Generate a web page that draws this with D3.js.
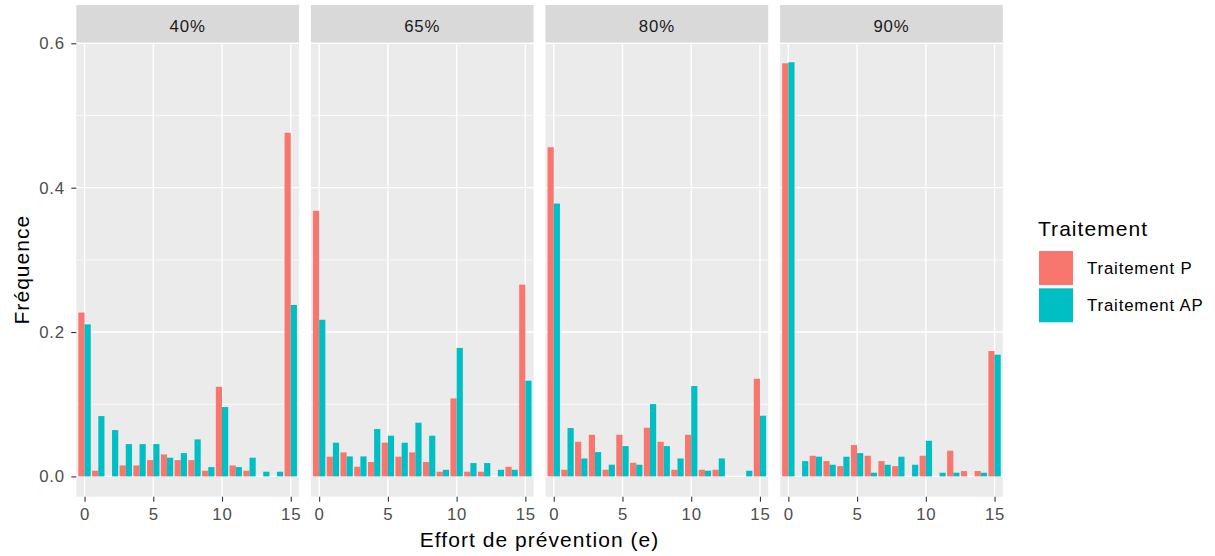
<!DOCTYPE html>
<html><head><meta charset="utf-8">
<script src="https://cdn.jsdelivr.net/npm/d3@7"></script>
<style>
body{margin:0;background:#fff}
text{font-family:"Liberation Sans",Arial,sans-serif;letter-spacing:0.05em}
</style>
</head><body>
<svg id="chart" width="1215" height="556"></svg>
<script>
// ---- data ----
const efforts = [0,1,2,3,4,5,6,7,8,9,10,11,12,13,14,15];
const panelLabels = ["40%","65%","80%","90%"];
const seriesNames = ["Traitement P","Traitement AP"];
const seriesColors = ["#F8766D","#00BFC4"];
const p40  = [0.227,0.0079,0,0.0152,0.0152,0.0226,0.0305,0.0226,0.0226,0.0079,0.1242,0.0152,0.0079,0,0,0.476];
const ap40 = [0.2106,0.0836,0.0642,0.0448,0.0448,0.0448,0.0259,0.0323,0.0513,0.0129,0.0961,0.0129,0.0259,0.0065,0.0065,0.2375];
const p65  = [0.368,0.0273,0.0333,0.0134,0.0199,0.0467,0.0273,0.0333,0.0199,0.0065,0.108,0.0065,0.0065,0,0.0134,0.2656];
const ap65 = [0.217,0.0467,0.0277,0.0277,0.0656,0.0564,0.0467,0.0744,0.0564,0.0092,0.178,0.0185,0.0185,0.0092,0.0092,0.1326];
const p80  = [0.456,0.0092,0.048,0.0577,0.0092,0.0577,0.0189,0.0674,0.048,0.0092,0.0577,0.0092,0.0092,0,0,0.1353];
const ap80 = [0.378,0.067,0.0249,0.0337,0.0162,0.042,0.0162,0.1002,0.042,0.0249,0.1252,0.0079,0.0249,0,0.0079,0.0841];
const p90  = [0.5723,0,0.0286,0.0212,0.0143,0.0434,0.0286,0.0212,0.0143,0,0.0286,0,0.0356,0.0074,0.0074,0.1737];
const ap90 = [0.5737,0.0212,0.0273,0.0162,0.0273,0.0323,0.0051,0.0162,0.0273,0.0162,0.0494,0.0051,0.0051,0,0.0051,0.1686];
const yTicks = [0,0.2,0.4,0.6];
const yMinor = [0.1,0.3,0.5];
const xTicks = [0,5,10,15];
const xTitle = "Effort de prévention (e)";
const yTitle = "Fréquence";
const legendTitle = "Traitement";

const panelData = [[p40,ap40],[p65,ap65],[p80,ap80],[p90,ap90]];

// ---- layout ----
const svg = d3.select("#chart");
const panelLeft0 = 76.3, panelW = 222.7, panelGap = 11.9;
const panelTop = 42.5, panelBottom = 496.7;
const stripTop = 5;
const y = d3.scaleLinear().domain([-0.0281, 0.6011]).range([panelBottom, panelTop]);
const barW = 0.45;

panelLabels.forEach((lab, i) => {
  const left = panelLeft0 + i*(panelW+panelGap);
  const x = d3.scaleLinear().domain([-0.6, 15.6]).range([left, left+panelW]);
  const g = svg.append("g");
  // background
  g.append("rect").attr("x", left).attr("y", panelTop).attr("width", panelW)
    .attr("height", panelBottom-panelTop).attr("fill", "#EBEBEB");
  // minor grid
  g.selectAll(".ymin").data(yMinor).join("line")
    .attr("x1", left).attr("x2", left+panelW).attr("y1", d=>y(d)).attr("y2", d=>y(d))
    .attr("stroke", "#fff").attr("stroke-width", 0.7);
  // major grid
  g.selectAll(".ymaj").data(yTicks).join("line")
    .attr("x1", left).attr("x2", left+panelW).attr("y1", d=>y(d)).attr("y2", d=>y(d))
    .attr("stroke", "#fff").attr("stroke-width", 1.4);
  g.selectAll(".xmaj").data(xTicks).join("line")
    .attr("x1", d=>x(d)).attr("x2", d=>x(d)).attr("y1", panelTop).attr("y2", panelBottom)
    .attr("stroke", "#fff").attr("stroke-width", 1.4);
  // bars
  panelData[i].forEach((vals, s) => {
    g.selectAll(null).data(efforts.map((e, k) => ({e, v: vals[k]})).filter(d => d.v > 0))
      .join("rect")
      .attr("x", d => x(s === 0 ? d.e - barW : d.e))
      .attr("width", d => x(d.e + barW) - x(d.e))
      .attr("y", d => y(d.v))
      .attr("height", d => y(0) - y(d.v))
      .attr("fill", seriesColors[s]);
  });
  // strip
  g.append("rect").attr("x", left).attr("y", stripTop).attr("width", panelW)
    .attr("height", panelTop - stripTop).attr("fill", "#D9D9D9");
  g.append("text").attr("x", left + panelW/2).attr("y", 31.6)
    .attr("text-anchor", "middle").attr("font-size", 16.8).attr("fill", "#1A1A1A").text(lab);
  // x axis
  const xa = g.append("g").attr("transform", `translate(0,${panelBottom})`)
    .call(d3.axisBottom(x).tickValues(xTicks).tickSize(5).tickPadding(6.4).tickFormat(d3.format("d")));
  xa.select(".domain").remove();
  xa.selectAll("line").attr("stroke", "#333").attr("stroke-width", 1.1);
  xa.selectAll("text").attr("font-size", 16.8).attr("fill", "#4D4D4D")
    .attr("font-family", "'Liberation Sans',Arial,sans-serif");
});

// y axis
const ya = svg.append("g").attr("transform", `translate(${panelLeft0},0)`)
  .call(d3.axisLeft(y).tickValues(yTicks).tickSize(5).tickPadding(6.3).tickFormat(d3.format(".1f")));
ya.select(".domain").remove();
ya.selectAll("line").attr("stroke", "#333").attr("stroke-width", 1.1);
ya.selectAll("text").attr("font-size", 16.8).attr("fill", "#4D4D4D")
  .attr("font-family", "'Liberation Sans',Arial,sans-serif");

// axis titles
const plotRight = panelLeft0 + 4*panelW + 3*panelGap;
svg.append("text").attr("x", (panelLeft0 + plotRight)/2).attr("y", 547)
  .attr("text-anchor", "middle").attr("font-size", 21).attr("fill", "#000").text(xTitle);
svg.append("text").attr("transform", `translate(29,${(panelTop+panelBottom)/2}) rotate(-90)`)
  .attr("text-anchor", "middle").attr("font-size", 21).attr("fill", "#000").text(yTitle);

// legend
const lg = svg.append("g");
lg.append("text").attr("x", 1038).attr("y", 236).attr("font-size", 21).attr("fill", "#000").text(legendTitle);
seriesNames.forEach((n, s) => {
  const ky = 251 + s*37.3;
  lg.append("rect").attr("x", 1039).attr("y", ky).attr("width", 34).attr("height", 34)
    .attr("fill", seriesColors[s]);
  lg.append("text").attr("x", 1087).attr("y", ky + 17).attr("dy", "0.35em")
    .attr("font-size", 16.8).attr("fill", "#000").text(n);
});
</script>
</body></html>
